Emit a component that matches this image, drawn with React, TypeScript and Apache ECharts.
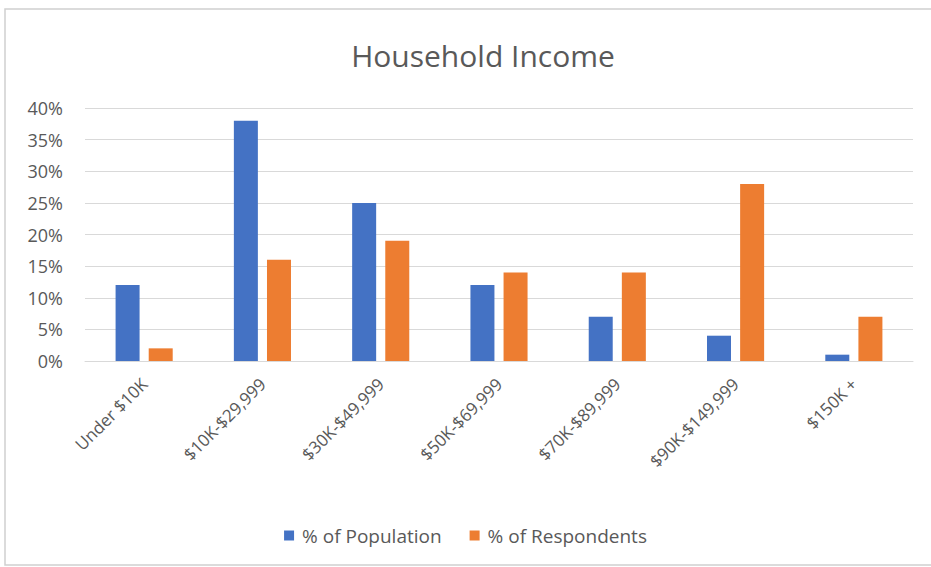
import React, { useEffect, useRef } from "react";
import * as echarts from "echarts";

const categories = [
  "Under $10K",
  "$10K-$29,999",
  "$30K-$49,999",
  "$50K-$69,999",
  "$70K-$89,999",
  "$90K-$149,999",
  "$150K +",
];
const populationPct = [12, 38, 25, 12, 7, 4, 1];
const respondentsPct = [2, 16, 19, 14, 14, 28, 7];
const seriesNames = ["% of Population", "% of Respondents"];

const FONT = "'Open Sans', 'Liberation Sans', sans-serif";
const TEXT = "#595959";

export default function App() {
  const ref = useRef<HTMLDivElement>(null);
  useEffect(() => {
    document.body.style.margin = "0";
    const chart = echarts.init(ref.current!, null, { renderer: "svg" });
    chart.setOption({
      animation: false,
      backgroundColor: "#ffffff",
      title: {
        text: "Household Income",
        left: 478,
        textAlign: "center",
        top: 35,
        textStyle: { fontFamily: FONT, fontSize: 30, fontWeight: "normal", color: TEXT },
      },
      graphic: [
        {
          type: "rect",
          shape: { x: 5, y: 9, width: 940, height: 556 },
          style: { fill: "none", stroke: "#d0d0d0", lineWidth: 1.5 },
          silent: true,
          z: -1,
        },
      ],
      legend: {
        data: seriesNames,
        bottom: 17,
        left: "center",
        itemWidth: 10,
        itemHeight: 10,
        itemGap: 28,
        icon: "rect",
        textStyle: { fontFamily: FONT, fontSize: 19, color: TEXT, padding: [0, 0, 0, 3] },
      },
      grid: { left: 85, right: 18, top: 108, bottom: 206, containLabel: false },
      xAxis: {
        type: "category",
        data: categories,
        axisLine: { lineStyle: { color: "#d9d9d9", width: 1 } },
        axisTick: { show: false },
        axisLabel: {
          rotate: 45,
          interval: 0,
          margin: 20,
          fontFamily: FONT,
          fontSize: 17,
          color: TEXT,
        },
      },
      yAxis: {
        type: "value",
        min: 0,
        max: 40,
        interval: 5,
        axisLine: { show: false },
        axisTick: { show: false },
        splitLine: { lineStyle: { color: "#d9d9d9", width: 1 } },
        axisLabel: {
          formatter: "{value}%",
          margin: 22,
          fontFamily: FONT,
          fontSize: 18,
          color: TEXT,
        },
      },
      series: [
        {
          name: seriesNames[0],
          type: "bar",
          data: populationPct,
          barWidth: 24,
          barGap: "38%",
          itemStyle: { color: "#4472C4" },
        },
        {
          name: seriesNames[1],
          type: "bar",
          data: respondentsPct,
          barWidth: 24,
          itemStyle: { color: "#ED7D31" },
        },
      ],
    });
    return () => chart.dispose();
  }, []);
  return <div ref={ref} style={{ width: 931, height: 567 }} />;
}
